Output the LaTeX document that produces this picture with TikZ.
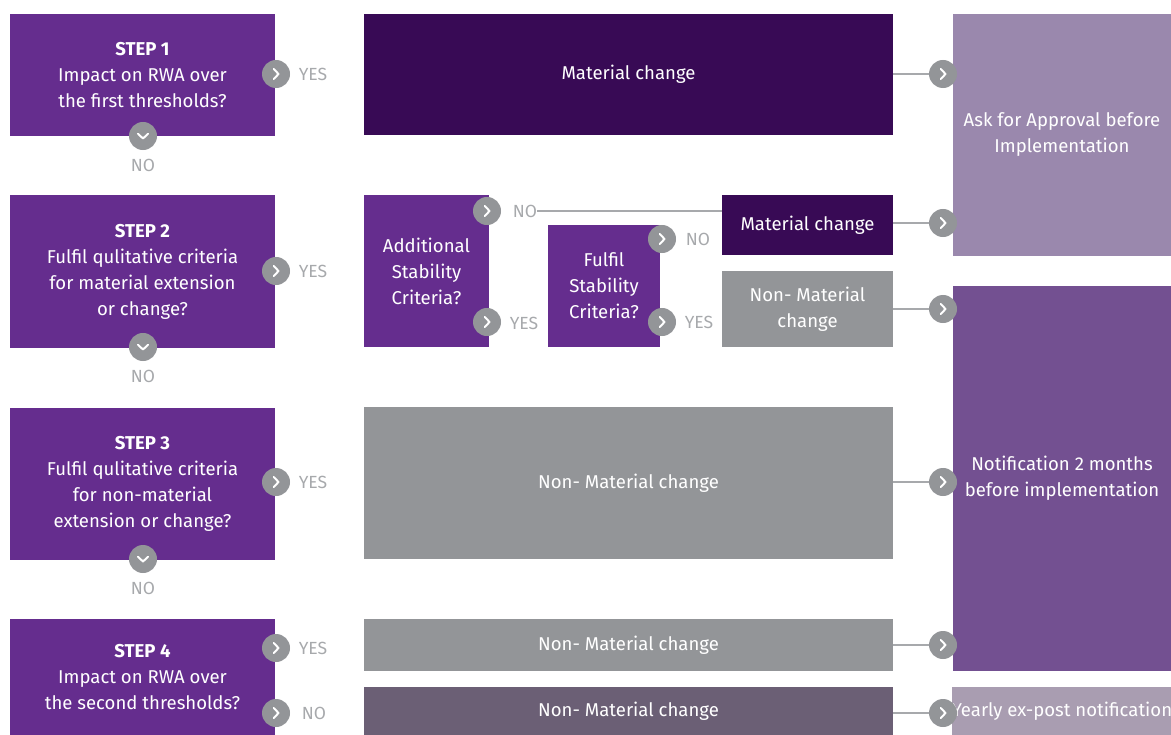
\documentclass[tikz,border=0pt]{standalone}
\usepackage{fontspec}
\setmainfont{Fira Sans}
\usetikzlibrary{positioning}
\definecolor{stepc}{HTML}{652D8E}
\definecolor{darkc}{HTML}{380A55}
\definecolor{greyc}{HTML}{939598}
\definecolor{slatec}{HTML}{6B5F75}
\definecolor{askc}{HTML}{9A88AD}
\definecolor{notic}{HTML}{735091}
\definecolor{yearc}{HTML}{A99DB1}
\definecolor{lblc}{HTML}{A7A9AC}

\begin{document}
\begin{tikzpicture}[x=0.025cm, y=-0.025cm, font=\fontsize{13.2}{18.5}\selectfont]
\tikzset{every node/.style={inner sep=0pt, align=center}}
\tikzset{box/.style 2 args={minimum width=#1*0.025cm, minimum height=#2*0.025cm, text=white}}
\tikzset{stepbox/.style={fill=stepc}}
\tikzset{arrowdot/.style={circle, fill=greyc, minimum size=0.7cm,
  path picture={\draw[white, line width=1.4pt, line cap=round, line join=round]
    ([xshift=-1.6pt, yshift=3.6pt]path picture bounding box.center) -- ++(3.4pt,-3.6pt) -- ++(-3.4pt,-3.6pt);}}}
\tikzset{downdot/.style={circle, fill=greyc, minimum size=0.7cm,
  path picture={\draw[white, line width=1.4pt, line cap=round, line join=round]
    ([xshift=-3.6pt, yshift=1.6pt]path picture bounding box.center) -- ++(3.6pt,-3.4pt) -- ++(3.6pt,3.4pt);}}}
\tikzset{lbl/.style={text=lblc, font=\fontsize{12.5}{15}\selectfont}}
\tikzset{conn/.style={draw=lblc, line width=0.9pt}}
\useasboundingbox (0,0) rectangle (1171,735);

% steps
\node[stepbox, box={265}{122}] (s1) at (142.5,75) {\textbf{STEP 1}\\Impact on RWA over\\the first thresholds?};
\node[stepbox, box={265}{152}] (s2) at (142.5,271.5) {\textbf{STEP 2}\\Fulfil qulitative criteria\\for material extension\\or change?};
\node[stepbox, box={265}{152}] (s3) at (142.5,483.5) {\textbf{STEP 3}\\Fulfil qulitative criteria\\for non-material\\extension or change?};
\node[stepbox, box={265}{116}] (s4) at (142.5,677) {\textbf{STEP 4}\\Impact on RWA over\\the second thresholds?};

% outcomes
\node[fill=darkc, box={529}{121}] (m1) at (628.5,74.5) {Material change};
\node[stepbox, box={125}{152}] (asc) at (426.5,271) {Additional\\Stability\\Criteria?};
\node[stepbox, box={112}{122}] (fsc) at (604,286) {Fulfil\\Stability\\Criteria?};
\node[fill=darkc, box={171}{60}] (m2) at (807.5,225) {Material change};
\node[fill=greyc, box={171}{76}] (n2) at (807.5,309) {Non- Material\\change};
\node[fill=greyc, box={529}{152}] (n3) at (628.5,483) {Non- Material change};
\node[fill=greyc, box={529}{52}] (n4) at (628.5,645) {Non- Material change};
\node[fill=slatec, box={529}{48}] (n5) at (628.5,711) {Non- Material change};

% results
\node[fill=askc, box={218}{242}] (ask) at (1062,135) {Ask for Approval before\\Implementation};
\node[fill=notic, box={218}{385}] (noti) at (1062,478.5) {Notification 2 months\\before implementation};
\node[fill=yearc, box={218}{48}] (year) at (1062,711) {Yearly ex-post notification};

% step answers
\node[arrowdot] (s1y) at (276,74) {};
\node[lbl] (s1yl) at (313,74) {YES};
\node[downdot] (s1n) at (143,136) {};
\node[lbl] (s1nl) at (143,165) {NO};
\node[arrowdot] (s2y) at (276,271) {};
\node[lbl] (s2yl) at (313,271) {YES};
\node[downdot] (s2n) at (143,347) {};
\node[lbl] (s2nl) at (143,376) {NO};
\node[arrowdot] (s3y) at (276,482) {};
\node[lbl] (s3yl) at (313,482) {YES};
\node[downdot] (s3n) at (143,559) {};
\node[lbl] (s3nl) at (143,588) {NO};
\node[arrowdot] (s4y) at (276,648) {};
\node[lbl] (s4yl) at (313,648) {YES};
\node[arrowdot] (s4n) at (276,713) {};
\node[lbl] (s4nl) at (314,713) {NO};

% stability answers
\node[arrowdot] (ascn) at (487,211) {};
\node[lbl] (ascnl) at (525,211) {NO};
\node[arrowdot] (ascy) at (487,322) {};
\node[lbl] (ascyl) at (524,323) {YES};
\node[arrowdot] (fscn) at (662,239) {};
\node[lbl] (fscnl) at (698,239) {NO};
\node[arrowdot] (fscy) at (662,322) {};
\node[lbl] (fscyl) at (699,322) {YES};
\draw[conn] (ascnl.east) -- (ascnl.east -| m2.west);

% to results
\node[arrowdot] (r1) at (943,74) {};
\node[arrowdot] (r2) at (943,223) {};
\node[arrowdot] (r3) at (943,309) {};
\node[arrowdot] (r4) at (943,482) {};
\node[arrowdot] (r5) at (943,645) {};
\node[arrowdot] (r6) at (943,713) {};
\draw[conn] (m1.east |- r1) -- (r1);
\draw[conn] (m2.east |- r2) -- (r2);
\draw[conn] (n2.east |- r3) -- (r3);
\draw[conn] (n3.east |- r4) -- (r4);
\draw[conn] (n4.east |- r5) -- (r5);
\draw[conn] (n5.east |- r6) -- (r6);
\end{tikzpicture}
\end{document}
